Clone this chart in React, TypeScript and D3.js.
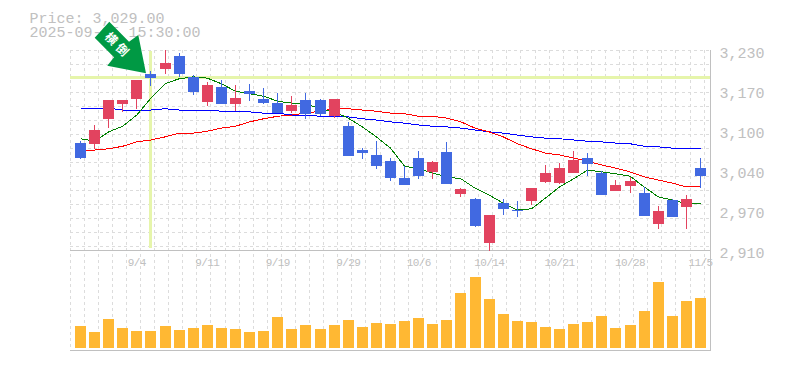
import React from "react";
import * as d3 from "d3";

const opens = [3081,3080,3120,3144,3152,3192,3200,3220,3187,3147,3171,3144,3164,3152,3145,3132,3150,3150,3124,3108,3070,3062,3052,3025,3057,3035,3067,3000,2992,2921,2985,2974,2988,3019,3017,3033,3057,3033,3004,3012,3001,2952,2990,2979,3041];
const closes = [3057,3102,3150,3150,3182,3185,3209,3192,3163,3174,3144,3153,3160,3145,3129,3142,3128,3128,3152,3060,3065,3044,3025,3014,3028,3051,3016,3008,2948,2966,2976,2972,3009,3033,3041,3054,3048,2998,3014,3020,2964,2972,2963,2992,3028];
const highs = [3084,3110,3150,3150,3182,3196,3230,3225,3190,3179,3182,3174,3176,3169,3161,3156,3161,3152,3152,3115,3073,3084,3057,3044,3068,3052,3083,3009,2993,2966,2992,2988,3009,3046,3049,3068,3065,3036,3022,3027,3011,2980,2992,2998,3057];
const lows = [3056,3072,3105,3131,3136,3172,3192,3187,3158,3140,3144,3132,3148,3144,3129,3129,3120,3124,3121,3060,3056,3040,3020,3014,3024,3024,3016,2995,2947,2908,2966,2963,2982,3017,3016,3033,3028,2998,3004,3001,2964,2944,2963,2944,3009];
const volumes = [220,160,290,200,170,170,220,180,200,230,200,190,160,170,310,190,230,190,230,280,210,250,240,270,300,240,280,550,710,490,340,270,260,210,190,240,260,320,200,230,370,660,320,470,500];
const maShort = [3088,3084,3099,3108,3126,3153,3176,3184,3187,3185,3176,3164,3160,3156,3148,3145,3144,3136,3131,3121,3107,3091,3073,3044,3040,3033,3027,3024,3009,2998,2985,2974,2976,2993,3011,3024,3038,3035,3032,3028,3011,2995,2990,2984,2985];
const maMid = [3070,3070,3072,3076,3083,3086,3091,3097,3097,3100,3105,3108,3115,3120,3124,3126,3129,3132,3136,3136,3134,3132,3129,3128,3124,3124,3121,3115,3105,3099,3091,3080,3072,3065,3062,3057,3052,3046,3041,3035,3027,3022,3017,3011,3011];
const maLong = [3137,3137,3137,3134,3134,3134,3136,3134,3134,3134,3132,3132,3131,3129,3129,3126,3126,3124,3124,3123,3120,3118,3115,3113,3110,3108,3107,3105,3102,3099,3097,3094,3091,3089,3088,3086,3084,3083,3081,3080,3076,3075,3073,3072,3072];
const priceTicks = [3230,3166,3102,3038,2974,2910];
const dateLabels: [number,string][] = [[4,"9/4"],[9,"9/11"],[14,"9/19"],[19,"9/29"],[24,"10/6"],[29,"10/14"],[34,"10/21"],[39,"10/28"],[44,"11/5"]];
const headerLines = ["Price: 3,029.00","2025-09-05 15:30:00"];
const arrowLabel = ["横","倒"];
const crosshair = { index: 5, price: 3187.5 };

const x = d3.scaleLinear().domain([0,44]).range([80.5,700.5]);
const y = d3.scaleLinear().domain([2910,3230]).range([250,50]);
const v = d3.scaleLinear().domain([0,710]).range([348,277]);
const gridX = d3.range(46).map(i => Math.floor(x(i)-10.5)+0.5);
const gridY = d3.range(0,200,14).map(d => 50+d+0.5);
const fmt = d3.format(",.0f");
const RED="#e2435f", BLUE="#4169e1", AXIS="#c0c0c0", GRID="#dcdcdc", CROSS="#e6f5ab", MONO="'Liberation Mono', monospace";

const line = (vals:number[]) => d3.line<number>().x((_,i)=>x(i)).y(d=>y(d))(vals) ?? "";

export default function App(){
  return (
    <svg width={785} height={370} style={{position:"absolute",left:0,top:0,background:"#fff"}}>
      <g stroke={GRID} strokeDasharray="3 3" shapeRendering="crispEdges">
        {gridX.map(g=><line key={g} x1={g} x2={g} y1={50} y2={350}/>)}
        {gridY.map(g=><line key={g} x1={70} x2={710} y1={g} y2={g}/>)}
      </g>
      <g fill={AXIS} fontFamily={MONO} fontSize={15}>
        {headerLines.map((t,i)=><text key={t} x={29.5} y={23+i*14}>{t}</text>)}
      </g>
      <g shapeRendering="crispEdges">
        <rect x={70} y={Math.round(y(crosshair.price))-1} width={640} height={3} fill={CROSS}/>
        <rect x={Math.round(x(crosshair.index))-2} y={51} width={3} height={197} fill={CROSS}/>
      </g>
      <g stroke={AXIS} shapeRendering="crispEdges">
        <line x1={70} x2={710} y1={250.5} y2={250.5}/>
        <line x1={70} x2={710} y1={350.5} y2={350.5}/>
        <line x1={710.5} x2={710.5} y1={50} y2={351}/>
      </g>
      <g fill={AXIS} fontFamily={MONO} fontSize={15}>
        {priceTicks.map(p=><text key={p} x={719.5} y={y(p)+8}>{fmt(Math.round(p/10)*10)}</text>)}
      </g>
      <g fill={AXIS} fontFamily={MONO} fontSize={11} textAnchor="middle" letterSpacing={-0.6}>
        {dateLabels.map(([i,t])=><text key={t} x={x(i)} y={266}>{t}</text>)}
      </g>
      <g fill="none" strokeWidth={1} shapeRendering="crispEdges">
        <path d={line(maLong)} stroke="#0000ff"/>
        <path d={line(maMid)} stroke="#ff0000"/>
        <path d={line(maShort)} stroke="#008000"/>
      </g>
      <g shapeRendering="crispEdges">
        {opens.map((o,i)=>{
          const c=closes[i], col=c>=o?RED:BLUE, cx=Math.floor(x(i));
          const t=Math.round(y(Math.max(o,c))), b=Math.round(y(Math.min(o,c)));
          return <g key={i} fill={col}>
            <rect x={cx} y={Math.round(y(highs[i]))} width={1} height={Math.round(y(lows[i]))-Math.round(y(highs[i]))}/>
            <rect x={cx-5} y={t} width={11} height={Math.max(1,b-t)}/>
            <rect x={cx-5} y={Math.round(v(volumes[i]))} width={11} height={348-Math.round(v(volumes[i]))} fill="#ffb833"/>
          </g>;
        })}
      </g>
      <polygon points="109.3,21.7 94.7,37.7 114,57.3 107.3,65.7 146,73.3 138.3,35 129,41.7" fill="#009944"/>
      <g fill="#fff" fontFamily="'Noto Sans CJK JP'" fontSize={12} fontWeight={700} textAnchor="middle">
        {arrowLabel.map((t,i)=><text key={t} transform={`translate(${111.5+i*11},${38.5+i*11}) rotate(45)`} y={4.5}>{t}</text>)}
      </g>
    </svg>
  );
}
